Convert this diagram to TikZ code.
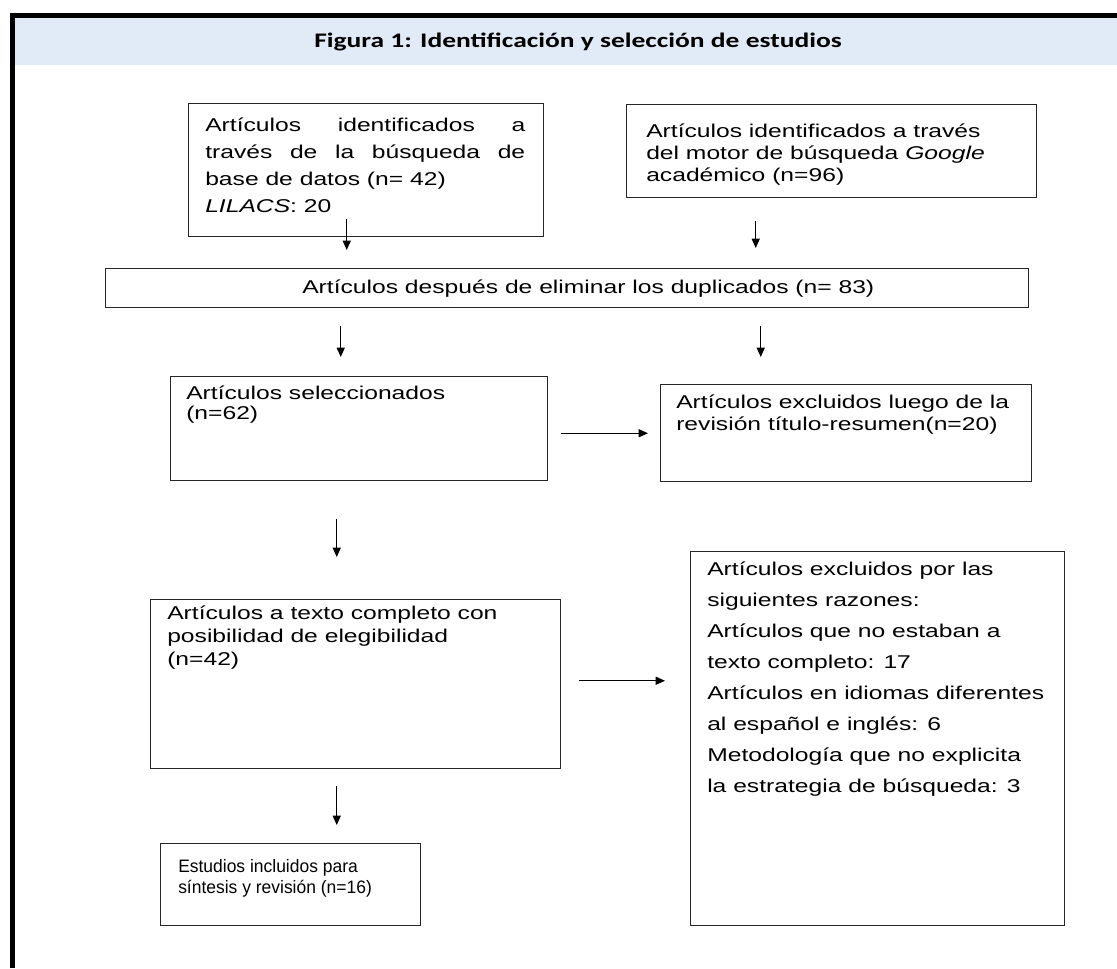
\documentclass[tikz,border=0pt]{standalone}
\usepackage{fontspec}
\usetikzlibrary{calc,arrows.meta}

\newfontfamily\boxfont{Liberation Sans}[FakeStretch=1.33]
\newfontfamily\narrowfont{Liberation Sans}[FakeStretch=0.97]
\newfontfamily\titlefont{Carlito}[FakeStretch=1.33]
\definecolor{hdrblue}{RGB}{225,234,247}

\tikzset{
  box/.style={draw=black!85, line width=1.1pt, inner sep=0pt, anchor=north west},
  txt/.style={anchor=base west, align=left, inner sep=0pt,
    font=\boxfont\fontsize{13.9pt}{#1}\selectfont},
  txt/.default=16.5pt,
  arr/.style={-{Triangle[length=7pt,width=6pt]}, line width=1pt},
}

\begin{document}
\begin{tikzpicture}[x=0.75pt,y=-0.75pt]
  \useasboundingbox (0,0) rectangle (1117,968);

  % frame and heading
  \fill[hdrblue] (14.5,17.5) rectangle (1117,65);
  \draw[line width=3.4pt] (12.5,968) -- (12.5,15.5) -- (1117,15.5);
  \node[font=\titlefont\bfseries\fontsize{15.5pt}{18pt}\selectfont] (titulo) at (578,42)
    {Figura 1: Identificación y selección de estudios};

  % boxes
  \foreach \n/\x/\y/\w/\h in {busq/188/103/355/133, google/626/104/410/93,
                              dup/105/268/923/39, selec/170/376/377/104,
                              excl1/660/384/371/97, compl/150/599/410/169,
                              excl2/690/551/374/374, incl/160/843/260/82} {
    \node[box, minimum width=\w*0.75pt, minimum height=\h*0.75pt] (\n) at (\x,\y) {};
  }

  % texts (placed at the baseline of their last line)
  \node[txt=20.25pt] (busqT) at (205,212.6)
    {\makebox[240pt][s]{Artículos identificados a}\\
     \makebox[240pt][s]{través de la búsqueda de}\\
     base de datos (n= 42)\\
     \textit{LILACS}: 20};
  \node[txt] (googleT) at (646,181.6)
    {Artículos identificados a través\\
     del motor de búsqueda \textit{Google}\\
     académico (n=96)};
  \node[txt] (dupT) at (302,293.6)
    {Artículos después de eliminar los duplicados (n= 83)};
  \node[txt=15pt] (selecT) at (186,419.6)
    {Artículos seleccionados\\ (n=62)};
  \node[txt] (excl1T) at (676,430.6)
    {Artículos excluidos luego de la\\ revisión título-resumen(n=20)};
  \node[txt=17.25pt] (complT) at (167,665.6)
    {Artículos a texto completo con\\ posibilidad de elegibilidad\\ (n=42)};
  \node[txt=23.25pt] (excl2T) at (707,792.6)
    {Artículos excluidos por las\\
     siguientes razones:\\
     Artículos que no estaban a\\
     texto completo: 17\\
     Artículos en idiomas diferentes\\
     al español e inglés: 6\\
     Metodología que no explicita\\
     la estrategia de búsqueda: 3};
  \node[anchor=base west, align=left, inner sep=0pt,
        font=\narrowfont\fontsize{13.5pt}{15.75pt}\selectfont] (inclT) at (178,893.6)
    {Estudios incluidos para\\ síntesis y revisión (n=16)};

  % arrows
  \draw[arr] ($(busq.south)+(-19.5,-18)$) -- ($(dup.north -| busq.south)+(-19.5,-18)$);
  \draw[arr] ($(google.south)+(-76,23)$) -- ($(dup.north -| google.south)+(-76,-20)$);
  \draw[arr] ($(dup.south -| selec.north)+(-18.5,18)$) -- ($(selec.north)+(-18.5,-19)$);
  \draw[arr] ($(dup.south -| excl1.north)+(-85.5,18)$) -- ($(excl1.north)+(-85.5,-27)$);
  \draw[arr] ($(selec.east |- excl1.west)+(13,0)$) -- ($(excl1.west)+(-12,0)$);
  \draw[arr] ($(selec.south)+(-22.5,38)$) -- ($(compl.north -| selec.south)+(-22.5,-42)$);
  \draw[arr] ($(compl.east)+(18,-3.5)$) -- ($(compl.east -| excl2.west)+(-25,-3.5)$);
  \draw[arr] ($(compl.south)+(-19,17)$) -- ($(incl.north)+(46,-18)$);
\end{tikzpicture}
\end{document}
